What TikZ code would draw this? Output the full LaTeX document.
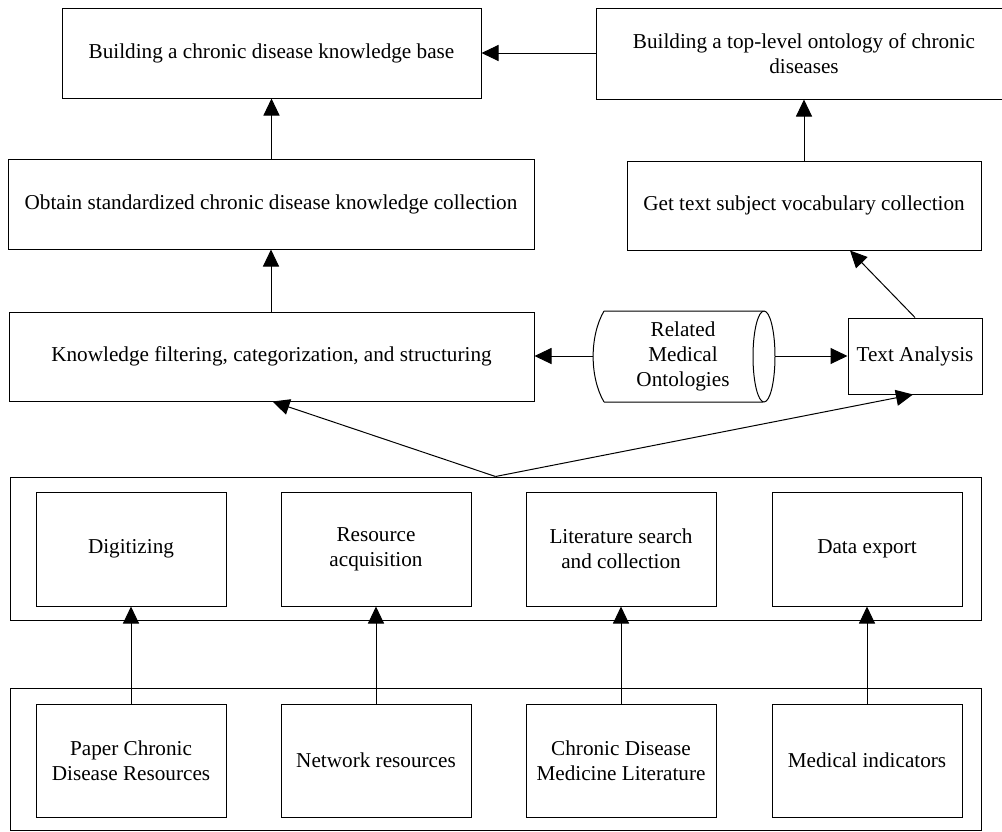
\documentclass[tikz,border=0pt]{standalone}
\usepackage{fontspec}
\setmainfont{Liberation Serif}
\usetikzlibrary{arrows.meta,calc}
\begin{document}
\begin{tikzpicture}[x=1pt,y=-1pt,
  every node/.style={font=\fontsize{21.2}{25}\selectfont, align=center, inner sep=0pt},
  box/.style={draw, line width=1pt, minimum width=#1},
  inbox/.style={draw, line width=1pt, minimum width=190pt},
  conn/.style={line width=1pt, -{Triangle[length=17pt,width=16pt]}},
  plain/.style={line width=1pt}
]
\useasboundingbox (0,0) rectangle (1002,831);

% top row
\node[box=419pt, minimum height=90pt] (kb) at (271.5,53) {Building a chronic disease knowledge base};
\node[box=416pt, minimum height=91pt] (onto) at (804,53.5) {Building a top-level ontology of chronic\\diseases};
% second row
\node[box=526pt, minimum height=90pt] (obtain) at (271,204) {Obtain standardized chronic disease knowledge collection};
\node[box=354pt, minimum height=89pt] (vocab) at (804,205.5) {Get text subject vocabulary collection};
% third row
\node[box=525pt, minimum height=89pt] (kf) at (271.5,356.5) {Knowledge filtering, categorization, and structuring};
\node[box=134pt, minimum height=76pt] (ta) at (915,356) {Text Analysis};
% cylinder
\draw[plain] (604,311) -- (763,311)
  (604,402) -- (763,402)
  (604,311) .. controls (589.5,336) and (589.5,377) .. (604,402);
\draw[plain] (764,356.5) ellipse [x radius=11, y radius=45.5];
\node (rmo) at (683,356) {Related\\Medical\\Ontologies};
\coordinate (rmoL) at (593,356);
\coordinate (rmoR) at (775,356);

% middle group
\node[box=971pt, minimum height=143pt] (mid) at (495.5,548.5) {};
\node[inbox, minimum height=114pt] (dig) at (131,549) {Digitizing};
\node[inbox, minimum height=114pt] (acq) at (376,549) {Resource\\acquisition};
\node[inbox, minimum height=114pt] (lit) at (621,549) {Literature search\\and collection};
\node[inbox, minimum height=114pt] (exp) at (867,549) {Data export};

% bottom group
\node[box=971pt, minimum height=142pt] (bot) at (495.5,759) {};
\node[inbox, minimum height=113pt] (pap) at (131,760.5) {Paper Chronic\\Disease Resources};
\node[inbox, minimum height=113pt] (net) at (376,760.5) {Network resources};
\node[inbox, minimum height=113pt] (cdm) at (621,760.5) {Chronic Disease\\Medicine Literature};
\node[inbox, minimum height=113pt] (med) at (867,760.5) {Medical indicators};

% connectors
\draw[conn] (onto.west |- kb.east) -- (kb.east);
\draw[conn] (obtain.north -| kb.south) -- (kb.south);
\draw[conn] (kf.north -| obtain.south) -- (obtain.south);
\draw[conn] (vocab.north) -- (onto.south);
\draw[conn] (ta.north) -- ([xshift=46pt]vocab.south);
\draw[conn] (rmoL) -- (rmoL -| kf.east);
\draw[conn] (rmoR) -- (rmoR -| ta.west);
\coordinate (v) at (mid.north);
\draw[conn] (v) -- ([xshift=1pt]kf.south);
\draw[conn] (v) -- ([xshift=-2pt]ta.south);

\draw[conn] (pap.north) -- (dig.south);
\draw[conn] (net.north) -- (acq.south);
\draw[conn] (cdm.north) -- (lit.south);
\draw[conn] (med.north) -- (exp.south);
\end{tikzpicture}
\end{document}
